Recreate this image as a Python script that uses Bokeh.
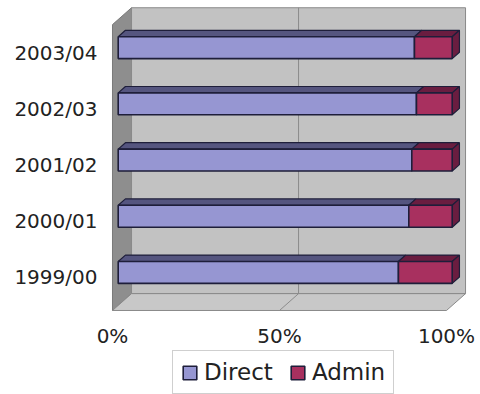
from bokeh.plotting import figure
from bokeh.models import Range1d, Legend, LegendItem, ColumnDataSource
from bokeh.core.properties import value
from bokeh.embed import file_html
from bokeh.resources import INLINE

# ---- data (percent of total spend) ----
years = ["1999/00", "2000/01", "2001/02", "2002/03", "2003/04"]
direct = [83.9, 87.0, 87.9, 89.3, 88.7]
admin = [16.1, 13.0, 12.1, 10.7, 11.3]
series = ["Direct", "Admin"]
x_ticks = [0, 0.5, 1.0]
x_tick_labels = ["0%", "50%", "100%"]

# ---- styling / 3-D geometry ----
FONT = "DejaVu Sans"
DX, DY = 0.057, 0.30      # full depth of the chart box (data units)
F0, F1 = 0.30, 0.68       # bar front / back depth fraction
H = 0.39                  # bar thickness
Y_FLOOR, Y_TOP = -0.587, 4.50
LABEL_GAP = 0.46          # x tick labels below the floor edge
CAT_GAP = 0.045           # category labels left of the left wall
front_col = {"Direct": "#9696d2", "Admin": "#a8305f"}
side_col = {"Direct": "#55557f", "Admin": "#6a1d40"}
edge = "#1e1e3a"

p = figure(frame_width=480, frame_height=394, output_backend="svg", toolbar_location=None,
           x_range=Range1d(-0.3353, 1.1018), y_range=Range1d(-2.082, 4.929),
           min_border_left=0, min_border_right=0, min_border_top=0,
           min_border_bottom=0)
p.outline_line_color = None
p.grid.visible = False
p.axis.visible = False
p.background_fill_color = "white"
p.border_fill_color = "white"

# walls
bx0, bx1 = DX, 1 + DX
p.patch([0, DX, DX, 0], [Y_FLOOR, Y_FLOOR + DY, Y_TOP + DY, Y_TOP],
        fill_color="#8e8e8e", line_color="#7a7a7a", line_width=1)
p.patch([bx0, bx1, bx1, bx0], [Y_FLOOR + DY, Y_FLOOR + DY, Y_TOP + DY, Y_TOP + DY],
        fill_color="#c2c2c2", line_color="#8a8a8a", line_width=1)
p.patch([0, 1, 1 + DX, DX], [Y_FLOOR, Y_FLOOR, Y_FLOOR + DY, Y_FLOOR + DY],
        fill_color="#c8c8c8", line_color="#8a8a8a", line_width=1)
# 50% gridline (floor + back wall)
for t in x_ticks[1:-1]:
    p.line([t, t + DX, t + DX], [Y_FLOOR, Y_FLOOR + DY, Y_TOP + DY],
           line_color="#8c8c8c", line_width=1)

# bars
ox, oy = F0 * DX, F0 * DY
ddx, ddy = (F1 - F0) * DX, (F1 - F0) * DY
idx = list(range(len(years)))
renderers = {}
starts = [0.0] * len(years)
for name, vals in zip(series, [direct, admin]):
    left = [starts[i] for i in idx]
    right = [starts[i] + vals[i] / 100.0 for i in idx]
    starts = right
    L = [v + ox for v in left]
    R = [v + ox for v in right]
    yc = [i + oy for i in idx]
    top = [y + H / 2 for y in yc]
    bot = [y - H / 2 for y in yc]
    # top face
    p.patches([[L[i], L[i] + ddx, R[i] + ddx, R[i]] for i in idx],
              [[top[i], top[i] + ddy, top[i] + ddy, top[i]] for i in idx],
              fill_color=side_col[name], line_color=edge, line_width=1.2)
    if name == series[-1]:
        # right side face
        p.patches([[R[i], R[i] + ddx, R[i] + ddx, R[i]] for i in idx],
                  [[top[i], top[i] + ddy, bot[i] + ddy, bot[i]] for i in idx],
                  fill_color=side_col[name], line_color=edge, line_width=1.2)
    src = ColumnDataSource(dict(y=yc, left=L, right=R))
    renderers[name] = p.hbar(y="y", left="left", right="right", height=H, source=src,
                             fill_color=front_col[name], line_color=edge,
                             line_width=1.6)

# category labels (front plane)
p.text(x=[-CAT_GAP] * len(years), y=idx, text=years,
       text_font=value(FONT), text_font_size="20px", text_color="#222222",
       text_align="right", text_baseline="middle")

# percentage tick labels along the floor's front edge
p.text(x=x_ticks, y=[Y_FLOOR - LABEL_GAP] * len(x_ticks), text=x_tick_labels,
       text_font=value(FONT), text_font_size="20px", text_color="#222222",
       text_align="center", text_baseline="middle")

legend = Legend(items=[LegendItem(label=s, renderers=[renderers[s]]) for s in series],
                orientation="horizontal", location=(172, 0),
                label_text_font=FONT, label_text_font_size="23px",
                label_text_color="#222222",
                glyph_width=17, glyph_height=17, label_standoff=6, spacing=16,
                padding=8, margin=0, border_line_color="#a0a0a0",
                background_fill_color="white")
p.add_layout(legend, "center")

open("out.html", "w").write(file_html(p, INLINE))
